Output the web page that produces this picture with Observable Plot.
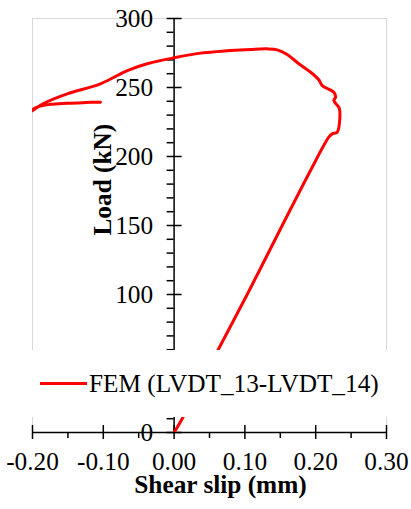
<!DOCTYPE html>
<html>
<head>
<meta charset="utf-8">
<script src="https://cdn.jsdelivr.net/npm/d3@7"></script>
<script src="https://cdn.jsdelivr.net/npm/@observablehq/plot@0.6"></script>
<style>
  html, body { margin: 0; padding: 0; background: #fff; }
  #wrap { position: relative; width: 411px; height: 509px; font-family: "Liberation Serif", serif; }
  #legend { position: absolute; left: 26px; top: 350px; width: 366px; height: 67px; background: #fff; }
  #legend .sw { position: absolute; left: 14px; top: 31.5px; width: 47px; height: 3px; background: #ff0000; }
  #legend .lb { position: absolute; left: 63px; top: 18px; font-size: 25.3px; line-height: 30px; color: #000; white-space: nowrap; }
</style>
</head>
<body>
<div id="wrap">
  <div id="chart"></div>
  <div id="legend"><div class="sw"></div><div class="lb">FEM (LVDT_13-LVDT_14)</div></div>
</div>
<script>
// Shear slip (mm) and load (kN) of the FEM curve
const slip = [0, 0.0114, 0.052, 0.1032, 0.1527, 0.1927, 0.2185, 0.2233, 0.2304, 0.234, 0.2326, 0.2256, 0.228, 0.2256, 0.2092, 0.2044, 0.1927, 0.1762, 0.1597, 0.1456, 0.1315, 0.108, 0.08, 0.0514, 0.0373, 0, -0.038, -0.066, -0.104, -0.151, -0.184, -0.2, -0.206, -0.195, -0.175, -0.151, -0.125, -0.104];
const load = [0, 10, 50, 100, 150, 189.9, 214, 216.4, 217.6, 233.3, 235.7, 240.6, 243, 246.6, 251.4, 255.6, 261.1, 267.2, 273.9, 277.3, 278, 277.6, 276.8, 275.6, 274.9, 271.5, 267.2, 262.3, 252.7, 245.4, 238.5, 233.3, 231.5, 235.5, 237.8, 238.6, 239.1, 239.4];

const xMajor = [-0.2, -0.1, 0, 0.1, 0.2, 0.3];
const xMinor = [-0.15, -0.05, 0.05, 0.15, 0.25];
const yMajor = [0, 50, 100, 150, 200, 250, 300];
const yMinor = [10, 20, 30, 40, 60, 70, 80, 90, 110, 120, 130, 140, 160, 170, 180, 190, 210, 220, 230, 240, 260, 270, 280, 290];
const xLabels = ["-0.20", "-0.10", "0.00", "0.10", "0.20", "0.30"];
const yLabels = ["0", "50", "100", "150", "200", "250", "300"];

const curve = slip.map((s, i) => ({slip: s, load: load[i]}));
const zero = () => 0;
const FS = 25.3;

const chart = Plot.plot({
  width: 411,
  height: 509,
  marginLeft: 32,
  marginRight: 25,
  marginTop: 18,
  marginBottom: 77,
  style: {fontFamily: "Liberation Serif", fontSize: FS + "px", color: "#000", background: "#fff"},
  x: {domain: [-0.2, 0.3], axis: null},
  y: {domain: [0, 300], axis: null},
  marks: [
    Plot.frame({stroke: "#d9d9d9", strokeWidth: 1}),
    // x axis
    Plot.ruleY([0], {stroke: "#000", strokeWidth: 1.5}),
    Plot.ruleX(xMajor, {x: d => d, y1: zero, y2: zero, insetTop: -7, insetBottom: -7, stroke: "#000", strokeWidth: 1.5}),
    Plot.ruleX(xMinor, {x: d => d, y1: zero, y2: zero, insetTop: 0, insetBottom: -6, stroke: "#000", strokeWidth: 1.5}),
    Plot.text(xMajor, {x: d => d, y: zero, text: (d, i) => xLabels[i], dy: 29, fontSize: FS, fill: "#000"}),
    // y axis
    Plot.ruleX([0], {y1: zero, y2: () => 300, stroke: "#000", strokeWidth: 1.5}),
    Plot.ruleY(yMajor, {y: d => d, x1: zero, x2: zero, insetLeft: -7, insetRight: -8, stroke: "#000", strokeWidth: 1.5}),
    Plot.ruleY(yMinor, {y: d => d, x1: zero, x2: zero, insetLeft: -7, insetRight: 0, stroke: "#000", strokeWidth: 1.5}),
    Plot.text(yMajor, {x: zero, y: d => d, text: (d, i) => yLabels[i], textAnchor: "end", dx: -21, fontSize: FS, fill: "#000"}),
    // data
    Plot.line(curve, {x: "slip", y: "load", curve: "catmull-rom", stroke: "#ff0000", strokeWidth: 3, strokeLinejoin: "round", strokeLinecap: "round", clip: true}),
    // titles
    Plot.text(["Shear slip (mm)"], {frameAnchor: "bottom", dx: 11, dy: 60, fontSize: FS, fontWeight: "bold", fill: "#000"}),
    Plot.text(["Load (kN)"], {frameAnchor: "left", dx: 70, dy: 10, rotate: -90, fontSize: FS, fontWeight: "bold", fill: "#000"})
  ]
});
document.getElementById("chart").appendChild(chart);
</script>
</body>
</html>
